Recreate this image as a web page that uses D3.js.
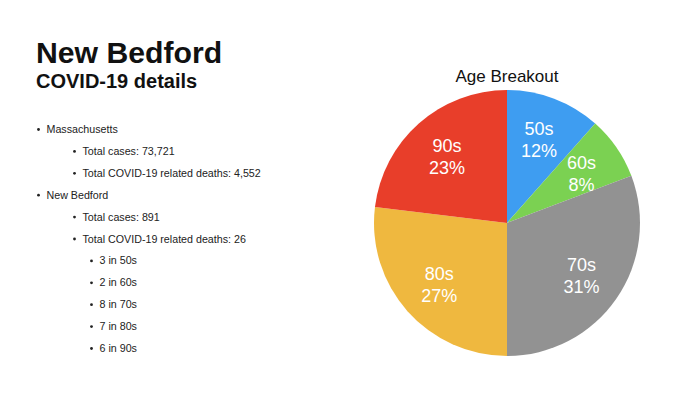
<!DOCTYPE html>
<html>
<head>
<meta charset="utf-8">
<script src="https://cdn.jsdelivr.net/npm/d3@7"></script>
<style>
  body { margin: 0; background: #fff; }
  svg { font-family: "Liberation Sans", Arial, Helvetica, sans-serif; }
</style>
</head>
<body>
<div id="chart"></div>
<script>
// age groups and deaths per group (New Bedford)
const ageGroups = ["50s", "60s", "70s", "80s", "90s"];
const deaths = [3, 2, 8, 7, 6];
const sliceColors = ["#3e9df1", "#7bd152", "#929292", "#efb83f", "#e83e2a"];

// bullet list: [level, text]
const bulletLevels = [1, 2, 2, 1, 2, 2, 3, 3, 3, 3, 3];
const bulletTexts = [
  "Massachusetts",
  "Total cases: 73,721",
  "Total COVID-19 related deaths: 4,552",
  "New Bedford",
  "Total cases: 891",
  "Total COVID-19 related deaths: 26",
  "3 in 50s",
  "2 in 60s",
  "8 in 70s",
  "7 in 80s",
  "6 in 90s"
];

const width = 700, height = 393;

const svg = d3.select("#chart")
  .append("svg")
  .attr("width", width)
  .attr("height", height);

// heading
svg.append("text")
  .attr("x", 36)
  .attr("y", 63)
  .attr("font-size", 30.2)
  .attr("font-weight", "bold")
  .attr("fill", "#111")
  .text("New Bedford");

svg.append("text")
  .attr("x", 36)
  .attr("y", 88)
  .attr("font-size", 20)
  .attr("font-weight", "bold")
  .attr("fill", "#111")
  .text("COVID-19 details");

// bullets
const bulletX = { 1: 37, 2: 73, 3: 90 };
const y = d3.scalePoint()
  .domain(d3.range(bulletTexts.length))
  .range([133, 352]);

const rows = svg.append("g")
  .selectAll("g")
  .data(bulletTexts)
  .enter()
  .append("g")
  .attr("transform", (d, i) => "translate(" + bulletX[bulletLevels[i]] + "," + y(i) + ")");

rows.append("circle")
  .attr("cx", 1.5)
  .attr("cy", -3.5)
  .attr("r", 1.4)
  .attr("fill", "#222");

rows.append("text")
  .attr("x", 9.5)
  .attr("font-size", 10.7)
  .attr("fill", "#222")
  .text(d => d);

// pie
const cx = 507, cy = 223, radius = 133;
const total = d3.sum(deaths);

const pie = d3.pie().sort(null).value(d => d);
const arc = d3.arc().innerRadius(0).outerRadius(radius);
const labelArc = d3.arc().innerRadius(radius * 0.68).outerRadius(radius * 0.68);

const color = d3.scaleOrdinal().domain(ageGroups).range(sliceColors);

const g = svg.append("g")
  .attr("transform", "translate(" + cx + "," + cy + ")");

const arcs = pie(deaths);

g.selectAll("path")
  .data(arcs)
  .enter()
  .append("path")
  .attr("d", arc)
  .attr("fill", (d, i) => color(ageGroups[i]));

const labels = g.selectAll("text.lbl")
  .data(arcs)
  .enter()
  .append("text")
  .attr("class", "lbl")
  .attr("transform", d => "translate(" + labelArc.centroid(d) + ")")
  .attr("text-anchor", "middle")
  .attr("font-size", 18)
  .attr("fill", "#fff");

labels.append("tspan")
  .attr("x", 0)
  .attr("y", -3)
  .text((d, i) => ageGroups[i]);

labels.append("tspan")
  .attr("x", 0)
  .attr("y", 19)
  .text(d => Math.round(d.value / total * 100) + "%");

svg.append("text")
  .attr("x", cx)
  .attr("y", 82)
  .attr("text-anchor", "middle")
  .attr("font-size", 17)
  .attr("fill", "#111")
  .text("Age Breakout");
</script>
</body>
</html>
